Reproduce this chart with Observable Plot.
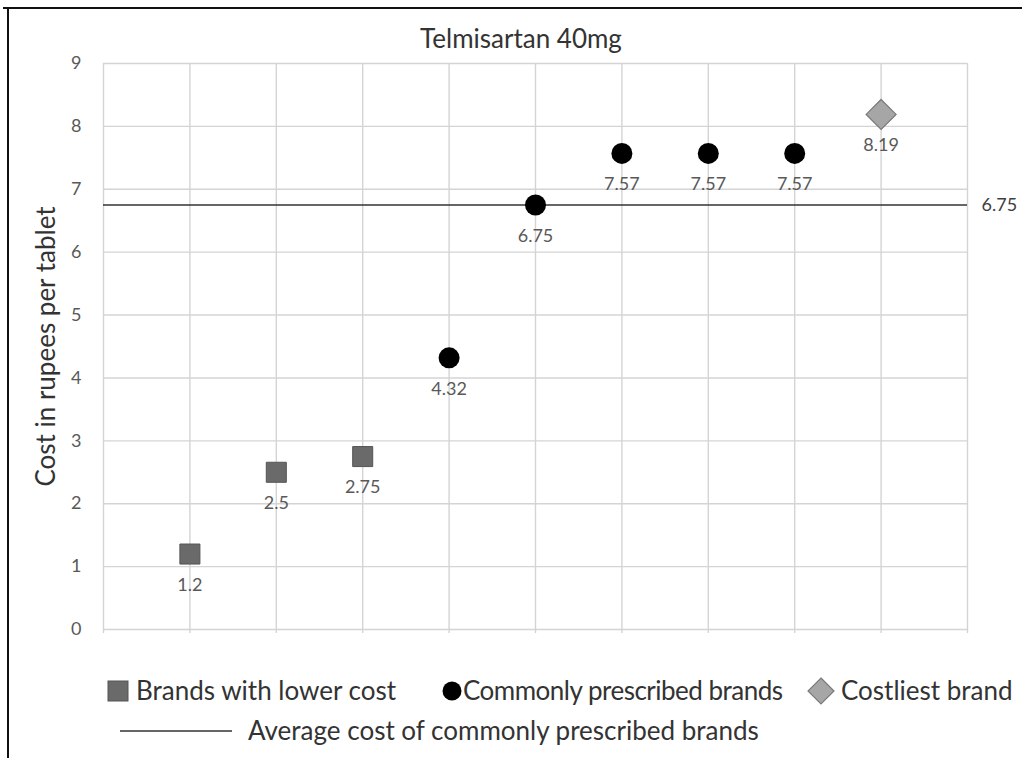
<!DOCTYPE html>
<html>
<head>
<meta charset="utf-8">
<script src="https://cdn.jsdelivr.net/npm/d3@7"></script>
<script src="https://cdn.jsdelivr.net/npm/@observablehq/plot@0.6"></script>
<style>
  html, body { margin: 0; padding: 0; background: #fff; overflow: hidden; }
  #wrap { position: relative; width: 1022px; height: 758px; overflow: hidden; font-family: Lato, "Open Sans", sans-serif; }
  #frameL { position: absolute; left: 7px; top: 7px; width: 2px; height: 751px; background: #111; }
  #frameT { position: absolute; left: 3px; top: 7px; width: 1019px; height: 2px; background: #111; }
  #title { position: absolute; left: 0; width: 1022px; top: 22px; text-align: center; font-size: 26px; line-height: 32px; color: #333; text-indent: 20px; }
  #chart { position: absolute; left: 0; top: 50px; }
  .leg { position: absolute; font-size: 26px; color: #333; white-space: nowrap; line-height: 30px; }
  .sw { position: absolute; }
</style>
</head>
<body>
<div id="wrap">
  <div id="frameL"></div>
  <div id="frameT"></div>
  <div id="title">Telmisartan 40mg</div>
  <div id="chart"></div>
  <div id="legend"></div>
</div>
<script>
// ---- data ----
const lowCostPos = [1, 2, 3];
const lowCostVal = [1.2, 2.5, 2.75];
const commonPos = [4, 5, 6, 7, 8];
const commonVal = [4.32, 6.75, 7.57, 7.57, 7.57];
const costliestPos = [9];
const costliestVal = [8.19];
const avgCommon = 6.75;
const yTicks = [0, 1, 2, 3, 4, 5, 6, 7, 8, 9];
const xGrid = [0, 1, 2, 3, 4, 5, 6, 7, 8, 9, 10];
const yLabel = "Cost in rupees per tablet";
const legendLabels = ["Brands with lower cost", "Commonly prescribed brands", "Costliest brand", "Average cost of commonly prescribed brands"];

const lowCost = lowCostPos.map((x, i) => ({x, y: lowCostVal[i]}));
const common = commonPos.map((x, i) => ({x, y: commonVal[i]}));
const costliest = costliestPos.map((x, i) => ({x, y: costliestVal[i]}));
const all = [...lowCost, ...common, ...costliest];

const labelFill = "#595959";
const chart = Plot.plot({
  width: 1022,
  height: 589,
  marginLeft: 103,
  marginRight: 55,
  marginTop: 13,
  marginBottom: 10,
  style: {fontFamily: "Lato, 'Open Sans', sans-serif", background: "transparent"},
  x: {domain: [0, 10], axis: null},
  y: {domain: [0, 9], axis: null},
  marks: [
    Plot.ruleY(yTicks, {stroke: "#d4d4d4", strokeWidth: 1.4}),
    Plot.ruleX(xGrid, {stroke: "#d4d4d4", strokeWidth: 1.4, insetBottom: -4}),
    Plot.axisY({ticks: yTicks, tickSize: 0, tickPadding: 22, fontSize: 18, color: labelFill, label: null, tickFormat: d => String(d)}),
    Plot.text([yLabel], {frameAnchor: "left", textAnchor: "middle", rotate: -90, dx: -57, fontSize: 26, fill: "#333", text: d => d}),
    Plot.ruleY([avgCommon], {stroke: "#333", strokeWidth: 1.4}),
    Plot.text([avgCommon], {x: 10, y: d => d, text: d => String(d), dx: 14, textAnchor: "start", fontSize: 18, fill: "#404040"}),
    Plot.dot(lowCost, {x: "x", y: "y", symbol: "square", r: 11.3, fill: "#6a6a6a", stroke: "#555", strokeWidth: 1}),
    Plot.dot(common, {x: "x", y: "y", symbol: "circle", r: 10.5, fill: "#000"}),
    Plot.dot(costliest, {x: "x", y: "y", symbol: "diamond2", r: 13.5, fill: "#a6a6a6", stroke: "#7a7a7a", strokeWidth: 1.2}),
    Plot.text(all, {x: "x", y: "y", text: d => String(d.y), dy: 31, fontSize: 18, fill: labelFill})
  ]
});
document.getElementById("chart").appendChild(chart);

// ---- legend (HTML) ----
const leg = document.getElementById("legend");
function addSwatch(html) { const d = document.createElement("div"); d.innerHTML = html; leg.appendChild(d.firstChild); }
function addText(txt, left, top, ls) { const d = document.createElement("div"); d.className = "leg"; d.textContent = txt; d.style.left = left + "px"; d.style.top = top + "px"; if (ls) d.style.letterSpacing = ls + "px"; leg.appendChild(d); }
addSwatch('<svg class="sw" style="left:107px;top:680px" width="22" height="22"><rect x="1" y="1" width="20" height="20" fill="#6a6a6a" stroke="#555"/></svg>');
addText(legendLabels[0], 136, 675);
addSwatch('<svg class="sw" style="left:441px;top:680px" width="22" height="22"><circle cx="11" cy="11" r="9.5" fill="#000"/></svg>');
addText(legendLabels[1], 463, 675, -0.5);
addSwatch('<svg class="sw" style="left:806px;top:676px" width="30" height="30"><path d="M15 2 L28 15 L15 28 L2 15 Z" fill="#a6a6a6" stroke="#7a7a7a" stroke-width="1.2"/></svg>');
addText(legendLabels[2], 841, 675);
addSwatch('<svg class="sw" style="left:118px;top:725px" width="116" height="12"><line x1="2" x2="114" y1="6" y2="6" stroke="#333" stroke-width="1.4"/></svg>');
addText(legendLabels[3], 248, 715);
</script>
</body>
</html>
